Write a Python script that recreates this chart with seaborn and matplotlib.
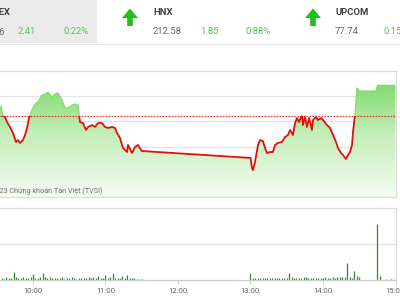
import numpy as np
import pandas as pd
import matplotlib
matplotlib.use("Agg")
import matplotlib.pyplot as plt
import seaborn as sns
from matplotlib.colors import LinearSegmentedColormap
from matplotlib.patches import Polygon, Rectangle

# ---------------- data ----------------
# intraday VN-Index (time in decimal hours)
price_times = [9.545, 9.559, 9.573, 9.586, 9.614, 9.642, 9.683, 9.724, 9.766, 9.793,
               9.821, 9.862, 9.890, 9.917, 9.945, 9.986, 10.028, 10.069, 10.124, 10.166,
               10.207, 10.262, 10.304, 10.345, 10.400, 10.442, 10.483, 10.538, 10.579, 10.621,
               10.648, 10.690, 10.731, 10.759, 10.814, 10.855, 10.897, 10.952, 10.993, 11.035,
               11.090, 11.131, 11.159, 11.200, 11.241, 11.297, 11.310, 11.366, 11.407, 11.448,
               11.500, 13.000, 13.021, 13.035, 13.062, 13.104, 13.131, 13.172, 13.200, 13.228,
               13.269, 13.310, 13.338, 13.379, 13.434, 13.476, 13.517, 13.545, 13.586, 13.614,
               13.642, 13.669, 13.710, 13.724, 13.752, 13.779, 13.807, 13.848, 13.862, 13.904,
               13.931, 13.972, 14.000, 14.055, 14.097, 14.138, 14.179, 14.207, 14.248, 14.276,
               14.317, 14.345, 14.372, 14.400, 14.414, 14.441, 14.469, 14.500, 14.731, 14.750,
               15.000]
price_vals = [1064.90, 1065.22, 1064.75, 1064.43, 1064.35, 1063.95, 1063.56, 1063.08, 1062.37, 1062.52,
              1062.29, 1062.52, 1062.92, 1063.48, 1064.27, 1064.90, 1065.38, 1065.54, 1066.10, 1066.17,
              1066.33, 1065.94, 1066.17, 1066.25, 1065.70, 1065.06, 1065.06, 1065.30, 1065.38, 1065.30,
              1063.95, 1063.87, 1063.32, 1063.56, 1063.71, 1063.56, 1063.87, 1063.87, 1063.56, 1063.48,
              1063.56, 1063.48, 1063.08, 1062.68, 1061.89, 1061.57, 1062.13, 1061.49, 1061.97, 1062.13,
              1061.65, 1061.10, 1060.30, 1060.14, 1060.78, 1062.13, 1062.52, 1062.44, 1061.89, 1061.49,
              1061.57, 1061.57, 1062.13, 1062.29, 1062.37, 1062.76, 1062.92, 1063.32, 1062.92, 1063.87,
              1064.27, 1063.95, 1064.51, 1063.71, 1064.35, 1063.56, 1064.27, 1063.32, 1064.11, 1064.35,
              1064.11, 1064.27, 1064.11, 1063.71, 1063.48, 1062.92, 1062.37, 1061.89, 1061.49, 1061.33,
              1061.02, 1061.33, 1061.57, 1062.13, 1063.16, 1064.51, 1066.65, 1066.41, 1066.41, 1066.86,
              1066.86]
ref_close = 1064.45

# volume (millions of shares), 2-minute bins
vol_am_start, vol_pm_start = "09:34", "13:00"
vol_am = [0.20, 0.15, 0.30, 0.18, 0.22, 0.90, 0.30, 0.25, 0.20, 0.35,
          0.18, 0.22, 0.30, 0.67, 0.25, 0.20, 0.30, 0.78, 0.30, 0.22,
          0.35, 0.20, 0.18, 0.25, 0.20, 0.30, 0.15, 0.22, 0.18, 0.30,
          0.20, 0.15, 0.22, 0.18, 0.25, 0.20, 0.30, 0.22, 0.28, 0.20,
          0.45, 0.25, 0.20, 0.55, 0.22, 0.30, 0.78, 0.25, 0.20, 0.22,
          0.45, 0.25, 0.55, 0.20, 0.18, 0.22, 0.15, 0.12, 0.10]
vol_pm = [0.78, 0.25, 0.20, 0.22, 0.18, 0.25, 0.20, 0.22, 0.18, 0.25,
          0.20, 0.22, 0.18, 0.20, 0.25, 0.22, 0.78, 0.30, 0.25, 0.22,
          0.20, 0.25, 0.30, 0.35, 0.25, 0.22, 0.20, 0.25, 0.22, 0.20,
          0.25, 0.30, 0.22, 0.25, 0.30, 0.25, 0.33, 0.30, 0.33, 0.30,
          1.90, 0.30, 0.25, 1.00, 0.45, 0.30]
vol_atc_times = ["14:45", "14:47", "14:52", "14:56"]
vol_atc = [6.20, 0.40, 0.08, 0.08]

# header
indices = ["VNINDEX", "HNX", "UPCOM"]
index_values = ["1,066.86", "212.58", "77.74"]
index_changes = ["2.41", "1.85", "0.15"]
index_pcts = ["0.22%", "0.88%", "0.19%"]
xtick_hours = [10, 11, 12, 13, 14, 15]
xtick_labels = ["10:00", "11:00", "12:00", "13:00", "14:00", "15:00"]
watermark = "© 2023 Chứng khoán Tân Việt (TVSI)"

# ---------------- helpers ----------------
def to_hours(ts):
    ts = pd.to_datetime(pd.Series(ts), format="%H:%M")
    return (ts.dt.hour + ts.dt.minute / 60.0).to_numpy()

am_t = to_hours(pd.date_range("2023-01-01 " + vol_am_start, periods=len(vol_am), freq="2min").strftime("%H:%M"))
pm_t = to_hours(pd.date_range("2023-01-01 " + vol_pm_start, periods=len(vol_pm), freq="2min").strftime("%H:%M"))
atc_t = to_hours(vol_atc_times)
vol_t = np.concatenate([am_t, pm_t, atc_t])
vol_v = np.concatenate([vol_am, vol_pm, vol_atc])

FONT = ["Roboto", "DejaVu Sans"]
sns.set_theme(style="white")
plt.rcParams["font.family"] = FONT

W, H = 400, 300
fig = plt.figure(figsize=(4, 3), dpi=100)
fig.patch.set_facecolor("white")

def fy(py):
    return 1 - py / H

XMIN, XMAX = 9.545, 15.0
YLO, YHI = 1058, 1068
ax_w = 395.5 / W

# ---------------- main price chart ----------------
ax = fig.add_axes([0, fy(197), ax_w, fy(71) - fy(197)])
ax.set_facecolor("white")
for g in [1060, 1062, 1064, 1066]:
    ax.axhline(g, color="#e3e3e3", lw=0.9, zorder=0)

df = pd.DataFrame({"time": price_times, "value": price_vals})
fb = ax.fill_between(df["time"], df["value"], YLO, color="none", lw=0)
cmap = LinearSegmentedColormap.from_list("g", ["#f6fcf4", "#c4eeb8", "#6fd75b"])
grad = np.linspace(0, 1, 256).reshape(-1, 1)
im = ax.imshow(grad, extent=[XMIN, XMAX, YLO, YHI], origin="lower", aspect="auto",
               cmap=cmap, zorder=1, interpolation="bilinear")
im.set_clip_path(fb.get_paths()[0], ax.transData)

ax.axhline(ref_close, color="#e53030", lw=0.8, ls=(0, (1.5, 1.2)), zorder=3)

sns.lineplot(data=df, x="time", y="value", ax=ax, color="#e01010", lw=1.3, zorder=4)
red_line = ax.lines[-1]
red_line.set_clip_path(Rectangle((XMIN, YLO), XMAX - XMIN, ref_close - YLO,
                                 transform=ax.transData))
sns.lineplot(data=df, x="time", y="value", ax=ax, color="#86d874", lw=0.9, zorder=4)
green_line = ax.lines[-1]
green_line.set_clip_path(Rectangle((XMIN, ref_close), XMAX - XMIN, YHI - ref_close,
                                   transform=ax.transData))

ax.set_xlim(XMIN, XMAX)
ax.set_ylim(YLO, YHI)
ax.set_xticks([])
ax.set_yticks([])
ax.set_xlabel("")
ax.set_ylabel("")
for s in ["top", "right", "bottom"]:
    ax.spines[s].set_color("#dddddd")
    ax.spines[s].set_linewidth(0.9)
ax.spines["left"].set_visible(False)

# ---------------- volume chart ----------------
axv = fig.add_axes([0, fy(280), ax_w, fy(208) - fy(280)])
axv.set_facecolor("white")
axv.axhline(4, color="#e3e3e3", lw=0.9, zorder=0)
axv.vlines(vol_t, 0, vol_v, color="#2f8a2f", lw=0.9, zorder=2)
axv.set_xlim(XMIN, XMAX)
axv.set_ylim(0, 8)
axv.set_yticks([])
axv.set_xticks(xtick_hours)
axv.set_xticklabels(xtick_labels, fontsize=5.6, color="#666666",
                    family=["Liberation Sans Narrow", "Roboto"])
axv.tick_params(axis="x", length=3, width=0.7, color="#cccccc", pad=3, bottom=True)
for s in ["top", "right"]:
    axv.spines[s].set_color("#dddddd")
    axv.spines[s].set_linewidth(0.9)
axv.spines["bottom"].set_color("#cccccc")
axv.spines["bottom"].set_linewidth(0.9)
axv.spines["left"].set_visible(False)

# ---------------- overlay (header + watermark) ----------------
ov = fig.add_axes([0, 0, 1, 1], zorder=10)
ov.set_xlim(0, W)
ov.set_ylim(H, 0)
ov.axis("off")
ov.patch.set_alpha(0)

ov.add_patch(Rectangle((0, 0), 97, 43, color="#ebebeb", lw=0))
ov.plot([0, W], [43.5, 43.5], color="#e6e6e6", lw=0.8)

def arrow(cx):
    pts = [(cx - 2.8, 26), (cx - 2.8, 18), (cx - 8, 18), (cx, 8.5),
           (cx + 8, 18), (cx + 2.8, 18), (cx + 2.8, 26)]
    ov.add_patch(Polygon(pts, closed=True, color="#1fbf1f", lw=0))

arrow(130)
arrow(313)

GREEN_TXT = "#5cbd5c"
GRAY_TXT = "#666666"
# VNINDEX (mostly cut off at the left edge, as in the cropped screenshot)
ov.text(10.5, 12.5, indices[0], ha="right", va="center", fontsize=6.8,
        fontweight="bold", color="#444444")
ov.text(4.5, 32, index_values[0], ha="right", va="center", fontsize=6.8, color=GRAY_TXT)
ov.text(18, 32, index_changes[0], ha="left", va="center", fontsize=6.8, color=GREEN_TXT)
ov.text(63, 32, index_pcts[0], ha="left", va="center", fontsize=6.8, color=GREEN_TXT)
# HNX
ov.text(153, 12.5, indices[1], ha="left", va="center", fontsize=6.8,
        fontweight="bold", color="#444444")
ov.text(153, 32, index_values[1], ha="left", va="center", fontsize=6.8, color=GRAY_TXT)
ov.text(200, 32, index_changes[1], ha="left", va="center", fontsize=6.8, color=GREEN_TXT)
ov.text(246, 32, index_pcts[1], ha="left", va="center", fontsize=6.8, color=GREEN_TXT)
# UPCOM (percentage lies beyond the right edge)
ov.text(335, 12.5, indices[2], ha="left", va="center", fontsize=6.8,
        fontweight="bold", color="#444444")
ov.text(335, 32, index_values[2], ha="left", va="center", fontsize=6.8, color=GRAY_TXT)
ov.text(383, 32, index_changes[2], ha="left", va="center", fontsize=6.8, color=GREEN_TXT)

# watermark inside chart
ov.text(102, 191, watermark, ha="right", va="center", fontsize=5.25, color="#707070",
        family=["Liberation Sans Narrow", "Roboto"])

fig.savefig("out.png", dpi=100, facecolor="white")
